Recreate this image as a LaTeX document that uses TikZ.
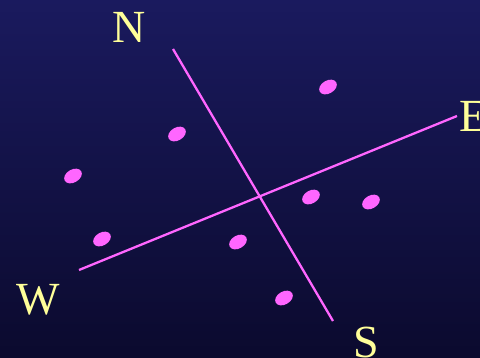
\documentclass[tikz,border=0pt]{standalone}
\usepackage{fontspec}
\setmainfont{Liberation Serif}
\usetikzlibrary{shapes.geometric}
\definecolor{bgtop}{HTML}{1A1A5E}
\definecolor{bgbot}{HTML}{0B0A2E}
\definecolor{mag}{HTML}{FF66FF}
\definecolor{ylw}{HTML}{FFFF99}
\begin{document}
\begin{tikzpicture}[x=1pt,y=-1pt,
  axisline/.style={draw=mag,line width=2.3pt},
  dot/.style={ellipse,fill=mag,draw=none,minimum width=19pt,minimum height=13pt,inner sep=0pt,rotate=30},
  lbl/.style={text=ylw,font=\fontsize{46}{46}\selectfont,inner sep=0pt,anchor=base west}]
\useasboundingbox (0,0) rectangle (480,357);
\shade[top color=bgtop,bottom color=bgbot] (0,0) rectangle (480,357);
\coordinate (n1) at (173,49);
\coordinate (s1) at (333,321);
\coordinate (w1) at (79,270);
\coordinate (e1) at (457,116);
\draw[axisline] (n1) -- (s1);
\draw[axisline] (w1) -- (e1);
\node[dot] (d1) at (328,87) {};
\node[dot] (d2) at (177,134) {};
\node[dot] (d3) at (73,176) {};
\node[dot] (d4) at (311,197) {};
\node[dot] (d5) at (371,202) {};
\node[dot] (d6) at (102,239) {};
\node[dot] (d7) at (238,242) {};
\node[dot] (d8) at (284,298) {};
\node[lbl] (N) at (112,42) {N};
\node[lbl] (E) at (459,131) {E};
\node[lbl] (W) at (16,314) {W};
\node[lbl] (S) at (353,357) {S};
\end{tikzpicture}
\end{document}
